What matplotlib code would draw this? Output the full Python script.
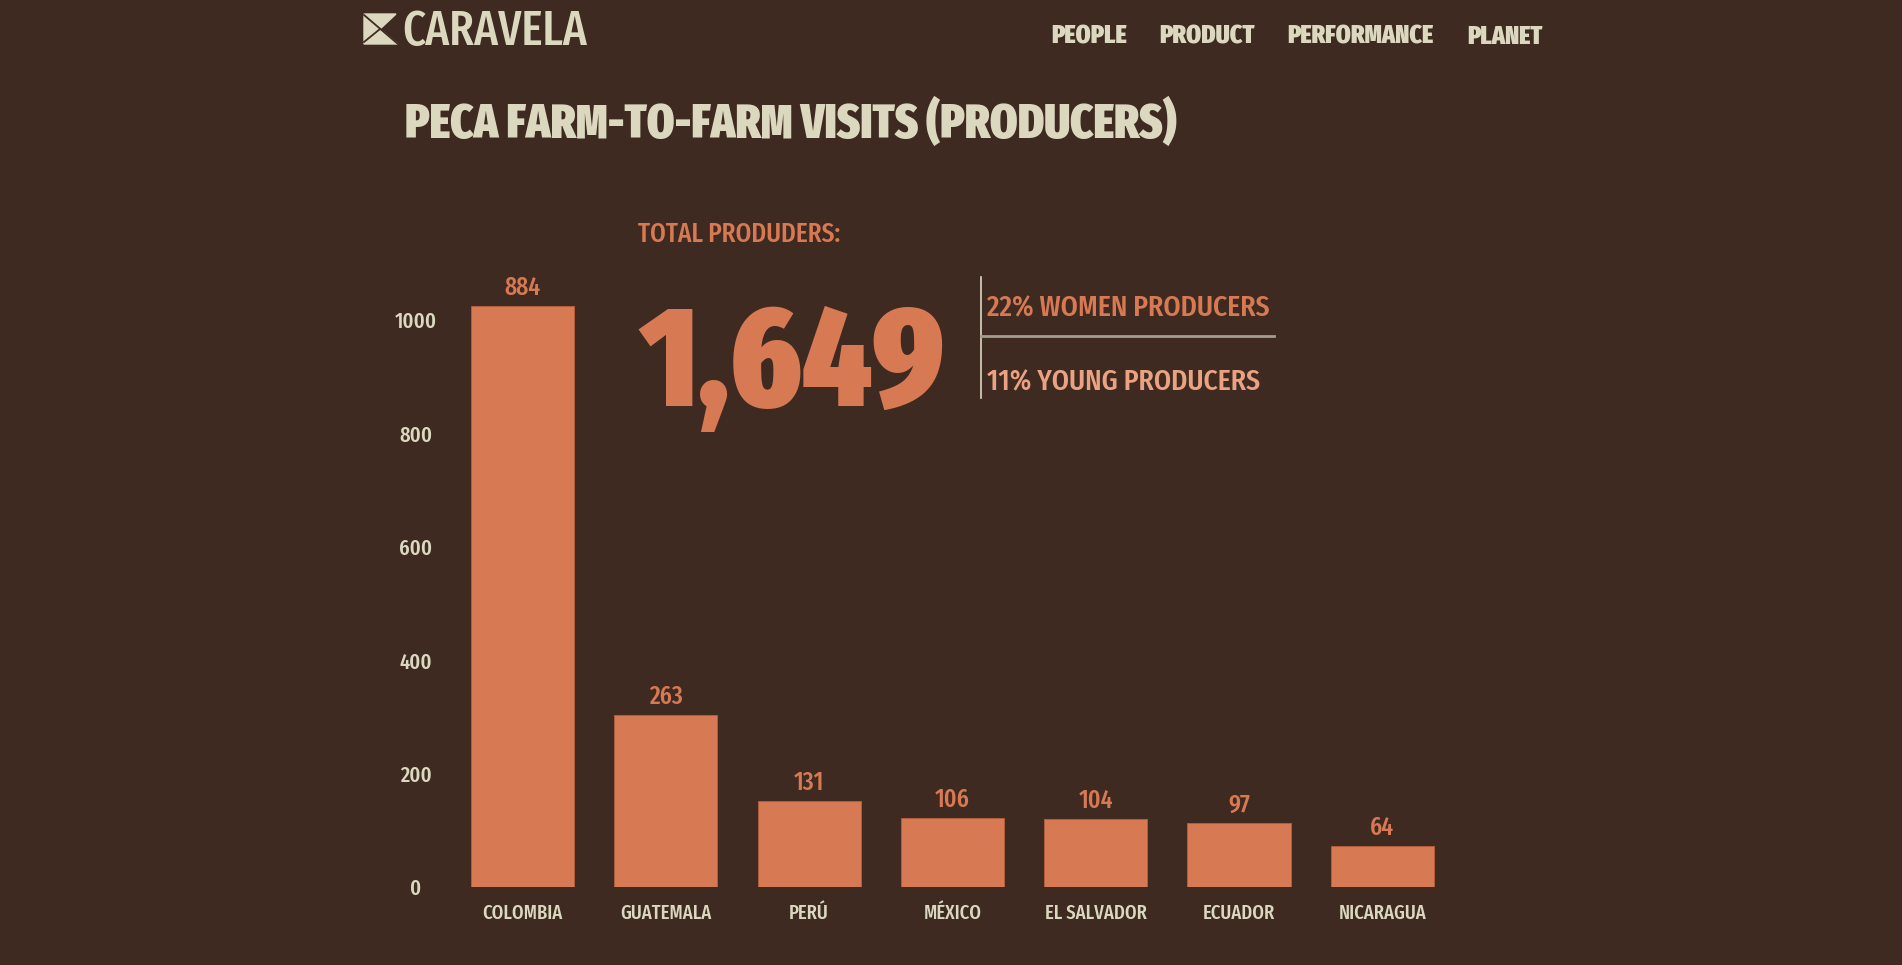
import os
import matplotlib
matplotlib.use('Agg')
import matplotlib.pyplot as plt
from matplotlib import font_manager as fm
from matplotlib.patches import Polygon
from matplotlib.lines import Line2D

# data
countries = ['COLOMBIA', 'GUATEMALA', 'PERÚ', 'MÉXICO', 'EL SALVADOR', 'ECUADOR', 'NICARAGUA']
value_labels = [884, 263, 131, 106, 104, 97, 64]
# bar tops as drawn against the y axis (the chart's bars run taller than their labels)
bar_heights = [1025, 304, 152, 122, 120, 112, 73]
y_ticks = [0, 200, 400, 600, 800, 1000]
nav_items = ['PEOPLE', 'PRODUCT', 'PERFORMANCE', 'PLANET']
total_producers = '1,649'
women_share = '22% WOMEN PRODUCERS'
young_share = '11% YOUNG PRODUCERS'

BG = '#3e2a21'
ORANGE = '#d77953'
CREAM = '#dcd8c0'
PEACH = '#eaa282'
LINE = '#a39d8b'

W, H = 1902, 965

# look for a narrow / condensed upright face, otherwise use Roboto
narrow = {}
for f in sorted(fm.fontManager.ttflist, key=lambda f: 'extracondensed' not in f.fname.lower()):
    base = os.path.basename(f.fname).lower()
    if ('condensed' in base or 'narrow' in base) and 'italic' not in base and 'oblique' not in base \
            and f.style == 'normal':
        w = f.weight if isinstance(f.weight, int) else 400
        if w >= 650:
            narrow.setdefault('bold', f.fname)
        elif 350 <= w <= 500:
            narrow.setdefault('reg', f.fname)
HAVE_NARROW = 'bold' in narrow and 'reg' in narrow


def font(kind, size):
    if HAVE_NARROW:
        return fm.FontProperties(fname=narrow['bold' if kind == 'bold' else 'reg'], size=size)
    weight = {'bold': 'bold', 'med': 'medium', 'reg': 'normal'}[kind]
    return fm.FontProperties(family=['Roboto', 'DejaVu Sans'], size=size, weight=weight)


def px(x, y):
    return x / W, 1 - y / H


fig = plt.figure(figsize=(19.02, 9.65), dpi=100, facecolor=BG)

# bar chart
x_left, x_right = -0.6, 6.6
unit = 143.3
ax_left = 522.5 + x_left * unit
y_top = 1100
ax_h = 567 * y_top / 1000
ax = fig.add_axes([ax_left / W, (H - 887) / H, (x_right - x_left) * unit / W, ax_h / H])
ax.set_facecolor(BG)
xs = range(len(countries))
ax.bar(xs, bar_heights, width=0.72, color=ORANGE, edgecolor='#b8603f', linewidth=0.6)
for i, (h, v) in enumerate(zip(bar_heights, value_labels)):
    ax.annotate(str(v), (i, h), xytext=(0, 4), textcoords='offset points', ha='center', va='bottom',
                color=ORANGE, fontproperties=font('reg', 18.5))
ax.set_xlim(x_left, x_right)
ax.set_ylim(0, y_top)
ax.set_xticks(list(xs), labels=countries, fontproperties=font('reg', 14.5), color=CREAM)
ax.set_yticks(y_ticks, labels=[str(t) for t in y_ticks], fontproperties=font('reg', 16), color=CREAM)
for lbl in ax.get_yticklabels():
    lbl.set_horizontalalignment('center')
ax.tick_params(axis='y', length=0, pad=15)
ax.tick_params(axis='x', length=0, pad=12)
for s in ax.spines.values():
    s.set_visible(False)

# header: logo mark (flag with a cut-out) and nav
icon = [(364, 14), (396, 14), (380, 29), (398, 44), (364, 44)]
fig.add_artist(Polygon([px(*p) for p in icon], closed=True, transform=fig.transFigure, color=CREAM))
for a, b in [((364, 15), (398, 44)), ((380, 29), (364, 42))]:
    fig.add_artist(Line2D([px(*a)[0], px(*b)[0]], [px(*a)[1], px(*b)[1]],
                          transform=fig.transFigure, color=BG, lw=1.3))
fig.text(*px(402, 45), 'CARAVELA', color=CREAM, fontproperties=font('reg', 35), va='baseline', ha='left')
for name, cx in zip(nav_items, [1089, 1207, 1360, 1505]):
    fig.text(*px(cx, 44), name, color=CREAM, fontproperties=font('bold', 18.6), va='baseline', ha='center')

fig.text(*px(405, 138), 'PECA FARM-TO-FARM VISITS (PRODUCERS)', color=CREAM,
         fontproperties=font('bold', 34.4), va='baseline', ha='left')

# totals block
fig.text(*px(638, 242), 'TOTAL PRODUDERS:', color=ORANGE, fontproperties=font('reg', 19.7), va='baseline', ha='left')
fig.text(*px(639, 406), total_producers, color=ORANGE, fontproperties=font('bold', 103), va='baseline', ha='left')
fig.add_artist(Line2D([px(981, 0)[0]] * 2, [px(0, 277)[1], px(0, 398)[1]], transform=fig.transFigure,
                      color=CREAM, lw=1.2))
fig.add_artist(Line2D([px(981, 0)[0], px(1274, 0)[0]], [px(0, 336)[1]] * 2, transform=fig.transFigure,
                      color=LINE, lw=2))
fig.text(*px(987, 316), women_share, color=ORANGE, fontproperties=font('reg', 21.7), va='baseline', ha='left')
fig.text(*px(987, 390), young_share, color=PEACH, fontproperties=font('reg', 21.7), va='baseline', ha='left')

fig.savefig('out.png', dpi=100, facecolor=BG)
